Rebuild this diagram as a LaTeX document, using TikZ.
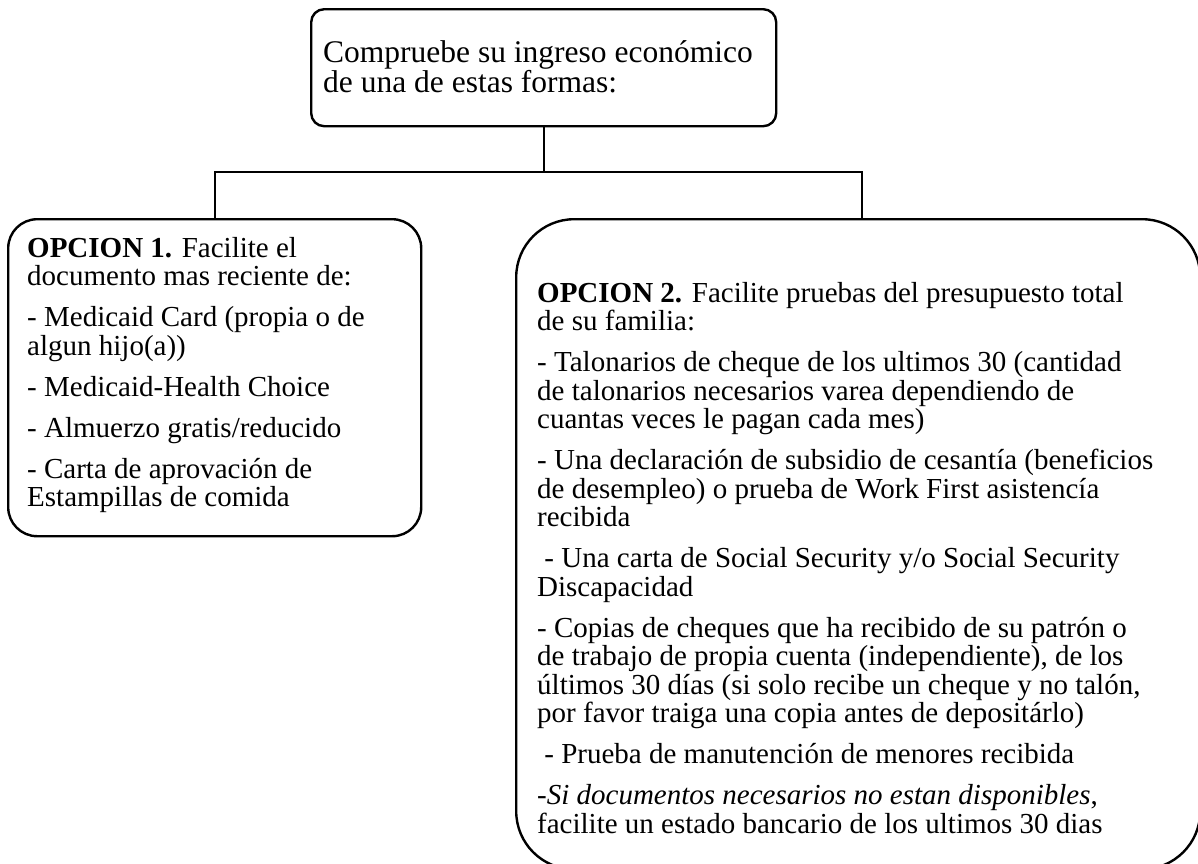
\documentclass[tikz,border=0pt]{standalone}
\usepackage{fontspec}
\setmainfont{Liberation Serif}
\begin{document}
\begin{tikzpicture}[x=1pt,y=-1pt,
  boxline/.style={draw, line width=2.4pt, inner sep=0pt, anchor=north west},
  wire/.style={draw, line width=2pt},
  txt/.style={anchor=north west, inner sep=0pt, align=left},
  bigfont/.style={font={\fontsize{31.5}{30}\selectfont\lineskiplimit=-100pt\lineskip=0pt}},
  bodyfont/.style={font={\fontsize{29}{28.5}\selectfont\lineskiplimit=-100pt\lineskip=0pt}}]
\useasboundingbox (0,0) rectangle (1198,863);
% boxes
\node[boxline, rounded corners=13pt, minimum width=465pt, minimum height=117pt] (top) at (310,8) {};
\node[boxline, rounded corners=29pt, minimum width=413pt, minimum height=317pt] (left) at (7,218) {};
\node[boxline, rounded corners=58pt, minimum width=684pt, minimum height=650pt] (right) at (515,218) {};
% texts
\node[txt, bigfont] (toptext) at (323,40)
  {Compruebe su ingreso económico\\de una de estas formas:};
\node[txt, bodyfont] (lefttext) at (27,237)
  {\textbf{OPCION 1.} Facilite el\\documento mas reciente de:\\[12.5pt]
   - Medicaid Card (propia o de\\algun hijo(a))\\[12.5pt]
   - Medicaid-Health Choice\\[12.5pt]
   - Almuerzo gratis/reducido\\[12.5pt]
   - Carta de aprovación de\\Estampillas de comida};
\node[txt, bodyfont] (righttext) at (537,282)
  {\textbf{OPCION 2.} Facilite pruebas del presupuesto total\\de su familia:\\[12.5pt]
   - Talonarios de cheque de los ultimos 30 (cantidad\\de talonarios necesarios varea dependiendo de\\cuantas veces le pagan cada mes)\\[12.5pt]
   - Una declaración de subsidio de cesantía (beneficios\\de desempleo) o prueba de Work First asistencía\\recibida\\[12.5pt]
   \hspace*{0.25em}- Una carta de Social Security y/o Social Security\\Discapacidad\\[12.5pt]
   - Copias de cheques que ha recibido de su patrón o\\de trabajo de propia cuenta (independiente), de los\\últimos 30 días (si solo recibe un cheque y no talón,\\por favor traiga una copia antes de depositárlo)\\[12.5pt]
   \hspace*{0.25em}- Prueba de manutención de menores recibida\\[12.5pt]
   -\textit{Si documentos necesarios no estan disponibles},\\facilite un estado bancario de los ultimos 30 dias};
% connectors
\coordinate (bus) at (542,172);
\coordinate (rx) at (862,0);
\draw[wire] (top.south) -- (top.south |- bus);
\draw[wire] (left.north) |- (bus) -| (right.north -| rx);
\end{tikzpicture}
\end{document}
